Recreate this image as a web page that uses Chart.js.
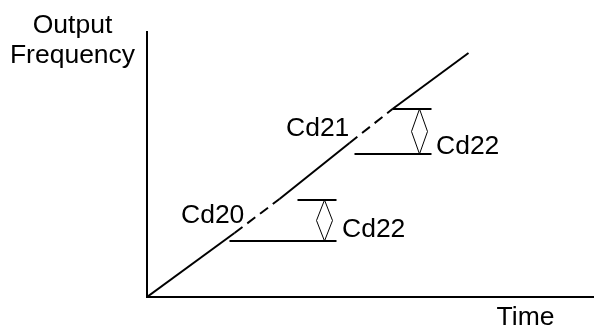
<!DOCTYPE html>
<html>
<head>
<meta charset="utf-8">
<script src="https://cdn.jsdelivr.net/npm/chart.js@4/dist/chart.umd.min.js"></script>
<style>
  html, body { margin: 0; padding: 0; background: #fff; }
  #wrap { width: 594px; height: 327px; }
</style>
</head>
<body>
<div id="wrap"><canvas id="grafico" width="594" height="327"></canvas></div>
<script>
// ramp of the output frequency over time (arbitrary units)
var rampTime = [0, 8.75, 13.25, 20.25, 24.55, 32.15];
var rampFreq = [0, 6.4, 9.8, 15.4, 18.8, 24.4];
var rampDashed = [false, true, false, true, false];

// frequency levels (horizontal marks)
var levelFreq = [5.6, 9.7, 14.3, 18.8];
var levelStart = [8.25, 15.05, 20.75, 24.55];
var levelEnd = [18.95, 18.95, 28.45, 28.45];

// hysteresis band Cd22
var bandTime = [17.75, 27.25];
var bandLow = [5.6, 14.3];
var bandHigh = [9.7, 18.8];

// parameter labels
var notes = ['Cd20', 'Cd22', 'Cd21', 'Cd22'];
var noteTime = [3.4, 19.5, 13.9, 28.9];
var noteFreq = [7.4, 6.0, 16.1, 14.3];

var eixoX = 'Time';
var eixoY = ['Output', 'Frequency'];

var fonte = '26.5px "Liberation Sans", Arial, sans-serif';
var diamanteLargura = 0.8;

function pontos(xs, ys){
    var lista = [];
    for (var i = 0; i < xs.length; i++) {
        lista.push({x: xs[i], y: ys[i]});
    }
    return lista;
}

var datasets = [];

datasets.push({
    data: pontos(rampTime, rampFreq),
    borderColor: '#000',
    borderWidth: 2,
    segment: {
        borderDash: function(ctx){ return rampDashed[ctx.p0DataIndex] ? [10, 6] : undefined; }
    }
});

for (var i = 0; i < levelFreq.length; i++) {
    datasets.push({
        data: [{x: levelStart[i], y: levelFreq[i]}, {x: levelEnd[i], y: levelFreq[i]}],
        borderColor: '#000',
        borderWidth: 2
    });
}

for (var j = 0; j < bandTime.length; j++) {
    var meio = (bandLow[j] + bandHigh[j]) / 2;
    datasets.push({
        data: [
            {x: bandTime[j], y: bandHigh[j]},
            {x: bandTime[j] + diamanteLargura, y: meio},
            {x: bandTime[j], y: bandLow[j]},
            {x: bandTime[j] - diamanteLargura, y: meio},
            {x: bandTime[j], y: bandHigh[j]}
        ],
        borderColor: '#000',
        borderWidth: 1
    });
}

var textos = {
    id: 'textos',
    afterDraw: function(chart){
        var ctx = chart.ctx;
        var sx = chart.scales.x;
        var sy = chart.scales.y;
        ctx.save();
        ctx.fillStyle = '#000';
        ctx.font = fonte;
        ctx.textBaseline = 'alphabetic';
        ctx.textAlign = 'left';
        for (var k = 0; k < notes.length; k++) {
            ctx.fillText(notes[k], sx.getPixelForValue(noteTime[k]), sy.getPixelForValue(noteFreq[k]));
        }
        ctx.textAlign = 'center';
        ctx.fillText(eixoY[0], 72.5, 33);
        ctx.fillText(eixoY[1], 72.5, 63);
        ctx.fillText(eixoX, 525.5, 325);
        ctx.restore();
    }
};

var config = {
    type: 'scatter',
    data: { datasets: datasets },
    options: {
        responsive: false,
        animation: false,
        showLine: true,
        layout: { padding: { left: 147, top: 32, right: 0, bottom: 30 } },
        elements: { point: { radius: 0, hoverRadius: 0 }, line: { tension: 0 } },
        plugins: { legend: { display: false }, tooltip: { enabled: false } },
        scales: {
            x: {
                type: 'linear', min: 0, max: 44.7,
                grid: { display: false, drawTicks: false },
                ticks: { display: false },
                border: { display: true, color: '#000', width: 2 }
            },
            y: {
                type: 'linear', min: 0, max: 26.5,
                grid: { display: false, drawTicks: false },
                ticks: { display: false },
                border: { display: true, color: '#000', width: 2 }
            }
        }
    },
    plugins: [textos]
};

const myChart = new Chart(document.getElementById('grafico'), config);
</script>
</body>
</html>
